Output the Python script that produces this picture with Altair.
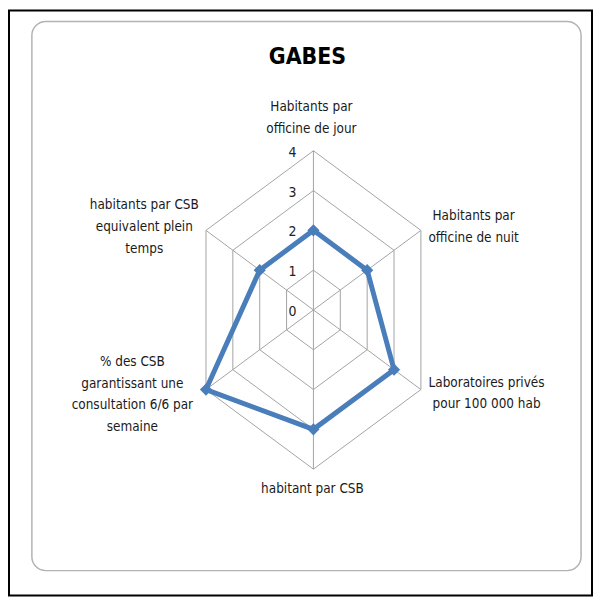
import math
import altair as alt
import pandas as pd

# ---- data ----
categories = [
    "Habitants par\nofficine de jour",
    "Habitants par\nofficine de nuit",
    "Laboratoires privés\npour 100 000 hab",
    "habitant par CSB",
    "% des CSB\ngarantissant une\nconsultation 6/6 par\nsemaine",
    "habitants par CSB\nequivalent plein\ntemps",
]
values = [2, 2, 3, 3, 4, 2]
grid_levels = [1, 2, 3, 4]
tick_labels = [0, 1, 2, 3, 4]
title_text = "GABES"
r_max = 4

# ---- layout ----
W, H = 588, 590
PX_X = 31.18   # px per unit horizontally (reference is squeezed horizontally)
PX_Y = 40.0    # px per unit vertically
CX, CY = 307, 302  # centre in view pixels
xdom = [-CX / PX_X, (W - CX) / PX_X]
ydom = [-(H - CY) / PX_Y, CY / PX_Y]

FONT = "Liberation Sans Narrow, DejaVu Sans Condensed, Liberation Sans, sans-serif"
GRID = "#a3a3a3"
BLUE = "#4a7ebb"
LH = 22

n = len(categories)


def pos(r, k):
    a = math.radians(360 / n * k)
    return r * math.sin(a), r * math.cos(a)


grid_rows = []
for L in grid_levels:
    for k in range(n + 1):
        x, y = pos(L, k % n)
        grid_rows.append({"level": L, "k": k, "x": x, "y": y})
grid_df = pd.DataFrame(grid_rows)

spoke_rows = []
for k in range(n):
    x, y = pos(r_max, k)
    spoke_rows.append({"x": 0.0, "y": 0.0, "x2": x, "y2": y})
spoke_df = pd.DataFrame(spoke_rows)

series_rows = []
for k in range(n + 1):
    x, y = pos(values[k % n], k % n)
    series_rows.append({"k": k, "x": x, "y": y, "v": values[k % n]})
series_df = pd.DataFrame(series_rows)

tick_df = pd.DataFrame({"t": tick_labels, "x": [0.0] * len(tick_labels), "y": tick_labels})

xs = alt.Scale(domain=xdom, nice=False, zero=False)
ys = alt.Scale(domain=ydom, nice=False, zero=False)
X = lambda f="x": alt.X(f"{f}:Q", scale=xs, axis=None)
Y = lambda f="y": alt.Y(f"{f}:Q", scale=ys, axis=None)

border = alt.Chart(pd.DataFrame({"a": [0]})).mark_rect(
    fill="transparent", stroke="black", strokeWidth=2
).encode(x=alt.value(1), x2=alt.value(W - 1), y=alt.value(1), y2=alt.value(H - 1))

frame = alt.Chart(pd.DataFrame({"a": [0]})).mark_rect(
    fill="transparent", stroke="#b3b3b3", strokeWidth=1.5, cornerRadius=14
).encode(x=alt.value(24), x2=alt.value(576), y=alt.value(12), y2=alt.value(564))

title = alt.Chart(pd.DataFrame({"t": [title_text]})).mark_text(
    font=FONT, fontSize=23, fontWeight="bold", color="#000000", baseline="middle", align="center"
).encode(x=alt.value(301), y=alt.value(48), text="t:N")

grid = alt.Chart(grid_df).mark_line(color=GRID, strokeWidth=1).encode(
    x=X(), y=Y(), detail="level:N", order=alt.Order("k:Q")
)

spokes = alt.Chart(spoke_df).mark_rule(color=GRID, strokeWidth=1).encode(
    x=X(), y=Y(), x2="x2:Q", y2="y2:Q"
)

series_line = alt.Chart(series_df).mark_line(color=BLUE, strokeWidth=5, strokeJoin="miter").encode(
    x=X(), y=Y(), order=alt.Order("k:Q")
)
series_pts = alt.Chart(series_df[series_df.k < n]).mark_point(
    shape="diamond", filled=True, color=BLUE, size=150, opacity=1
).encode(x=X(), y=Y())

ticks = alt.Chart(tick_df).mark_text(
    font=FONT, fontSize=14, color="#222222", dx=-21, dy=2, baseline="middle", align="center"
).encode(x=X(), y=Y(), text="t:N")

# label block-centre offsets (pixels from each outer vertex)
offsets = [(-2, -33), (53, -3), (66, 4), (-1, 20), (-74, 5), (-62, -3)]
label_layers = []
for k, cat in enumerate(categories):
    x, y = pos(r_max, k)
    dx, dy = offsets[k]
    nlines = cat.count("\n") + 1
    dy = dy - (nlines - 1) * LH / 2
    df = pd.DataFrame({"x": [x], "y": [y], "label": [cat]})
    label_layers.append(
        alt.Chart(df).mark_text(
            font=FONT, fontSize=13.5, color="#1a1a1a", lineBreak="\n", lineHeight=LH,
            align="center", baseline="middle", dx=dx, dy=dy
        ).encode(x=X(), y=Y(), text="label:N")
    )

chart = alt.layer(
    border, frame, title, grid, spokes, series_line, series_pts, ticks, *label_layers
).properties(
    width=W, height=H, autosize=alt.AutoSizeParams(type="none"), padding=0
).configure_view(stroke=None)

chart.save("out.html", embed_options={"renderer": "svg", "actions": False})
